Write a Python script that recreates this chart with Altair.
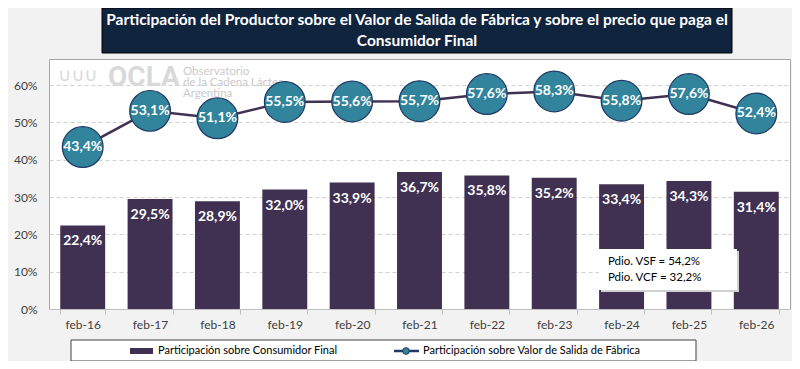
import altair as alt
import pandas as pd

# ---- data ----
categories = ["feb-16", "feb-17", "feb-18", "feb-19", "feb-20", "feb-21",
              "feb-22", "feb-23", "feb-24", "feb-25", "feb-26"]
consumidor = [22.4, 29.5, 28.9, 32.0, 33.9, 36.7, 35.8, 35.2, 33.4, 34.3, 31.4]
fabrica = [43.4, 53.1, 51.1, 55.5, 55.6, 55.7, 57.6, 58.3, 55.8, 57.6, 52.4]
y_ticks = [0, 10, 20, 30, 40, 50, 60]
title_lines = ["Participación del Productor sobre el Valor de Salida de Fábrica y sobre el precio que paga el",
               "Consumidor Final"]
legend_labels = ["Participación sobre Consumidor Final",
                 "Participación sobre Valor de Salida de Fábrica"]
note_lines = ["Pdio. VSF = 54,2%", "Pdio. VCF = 32,2%"]
wm_big = "OCLA"
wm_small = ["Observatorio", "de la Cadena Láctea", "Argentina"]

FONT = "Lato"
PURPLE = "#403152"
TEAL = "#31849B"
NAVY = "#1F3864"
TITLE_BG = "#10243E"

W, H = 741, 250

df = pd.DataFrame({"cat": categories, "vcf": consumidor, "vsf": fabrica})
one = pd.DataFrame({"k": [0]})

xenc = alt.X("cat:N", sort=categories,
             scale=alt.Scale(paddingInner=0.333, paddingOuter=0.167),
             axis=alt.Axis(title=None, labelAngle=0, labelFont=FONT, labelFontSize=12,
                           labelColor="#404040", tickBand="extent", ticks=True,
                           tickColor="#BFBFBF", tickSize=5, domainColor="#BFBFBF",
                           labelPadding=5))
yscale = alt.Scale(domain=[0, 67], nice=False)
yaxis = alt.Axis(title=None, values=y_ticks, labelExpr="datum.value + '%'",
                 ticks=False, domain=False, grid=True, gridDash=[4, 3],
                 gridColor="#D0D0D0", labelPadding=12, labelFont=FONT,
                 labelFontSize=12, labelColor="#404040")

base = alt.Chart(df).transform_calculate(
    lvcf="replace(format(datum.vcf, '.1f'), '.', ',') + '%'",
    lvsf="replace(format(datum.vsf, '.1f'), '.', ',') + '%'",
).encode(x=xenc)

bars = base.mark_bar(color=PURPLE).encode(
    y=alt.Y("vcf:Q", scale=yscale, axis=yaxis))
bar_lbl = base.mark_text(dy=16, color="white", font=FONT, fontWeight="bold",
                         fontSize=14, baseline="middle").encode(
    y=alt.Y("vcf:Q", scale=yscale, axis=yaxis), text="lvcf:N")
line = base.mark_line(color=PURPLE, strokeWidth=2.5).encode(
    y=alt.Y("vsf:Q", scale=yscale, axis=yaxis))
dots = base.mark_circle(size=1660, color=TEAL, opacity=1, stroke=NAVY,
                        strokeWidth=1.2).encode(
    y=alt.Y("vsf:Q", scale=yscale, axis=yaxis))
dot_lbl = base.mark_text(color="white", font=FONT, fontWeight="bold",
                         fontSize=14, baseline="middle").encode(
    y=alt.Y("vsf:Q", scale=yscale, axis=yaxis), text="lvsf:N")

deco = alt.Chart(one)

# title box
title_box = deco.mark_rect(fill=TITLE_BG, stroke="#000000", strokeWidth=1).encode(
    x=alt.value(53), x2=alt.value(683), y=alt.value(-51), y2=alt.value(-6))
title_txt = deco.mark_text(color="white", font=FONT, fontWeight="bold", fontSize=15.5,
                           align="center", baseline="middle", lineHeight=21).encode(
    x=alt.value(368), y=alt.value(-39), text=alt.value(title_lines))

# watermark
wm1 = deco.mark_text(color="#D9D9D9", font="Roboto", fontWeight="bold", fontSize=28,
                     align="left", baseline="middle").encode(
    x=alt.value(59), y=alt.value(19), text=alt.value(wm_big))
wm2 = deco.mark_text(color="#CACACA", font=FONT, fontSize=11.5, align="left",
                     baseline="middle", lineHeight=11).encode(
    x=alt.value(134), y=alt.value(13), text=alt.value(wm_small))
wm_logo = deco.mark_text(color="#D9D9D9", font="DejaVu Sans", fontSize=18, align="left",
                         baseline="middle").encode(
    x=alt.value(9), y=alt.value(17), text=alt.value("∪∪∪"))

# note box
note_shadow = deco.mark_rect(fill="#D0D0D0").encode(
    x=alt.value(552), x2=alt.value(690), y=alt.value(192), y2=alt.value(233))
note_box = deco.mark_rect(fill="white").encode(
    x=alt.value(550), x2=alt.value(688), y=alt.value(190), y2=alt.value(231))
note_txt = deco.mark_text(color="#000000", font=FONT, fontSize=11.5, align="left",
                          baseline="middle", lineHeight=16).encode(
    x=alt.value(559), y=alt.value(203), text=alt.value(note_lines))

# legend
leg_box = deco.mark_rect(fill="white", stroke="#404040", strokeWidth=1).encode(
    x=alt.value(22), x2=alt.value(647), y=alt.value(281), y2=alt.value(302))
leg_sw = deco.mark_rect(fill=PURPLE).encode(
    x=alt.value(81), x2=alt.value(104), y=alt.value(289), y2=alt.value(295))
leg_t1 = deco.mark_text(color="#000000", font=FONT, fontSize=11, align="left",
                        baseline="middle").encode(
    x=alt.value(109), y=alt.value(292), text=alt.value(legend_labels[0]))
leg_ln = deco.mark_rule(color=NAVY, strokeWidth=2.5).encode(
    x=alt.value(345), x2=alt.value(370), y=alt.value(292))
leg_dot = deco.mark_circle(size=45, color=TEAL, opacity=1, stroke=NAVY,
                           strokeWidth=1).encode(x=alt.value(357), y=alt.value(292))
leg_t2 = deco.mark_text(color="#000000", font=FONT, fontSize=11, align="left",
                        baseline="middle").encode(
    x=alt.value(374), y=alt.value(292), text=alt.value(legend_labels[1]))

chart = alt.layer(
    wm_logo, wm1, wm2, bars, bar_lbl, line, dots, dot_lbl,
    title_box, title_txt, note_shadow, note_box, note_txt,
    leg_box, leg_sw, leg_t1, leg_ln, leg_dot, leg_t2,
).properties(
    width=W, height=H,
    autosize=alt.AutoSizeParams(type="none"),
    padding={"left": 41, "top": 51, "right": 2, "bottom": 52},
    background="#F2F2F2",
).configure_view(fill="white", stroke="#A6A6A6", strokeWidth=1)

chart.save("out.html", embed_options={"renderer": "svg", "actions": False})
